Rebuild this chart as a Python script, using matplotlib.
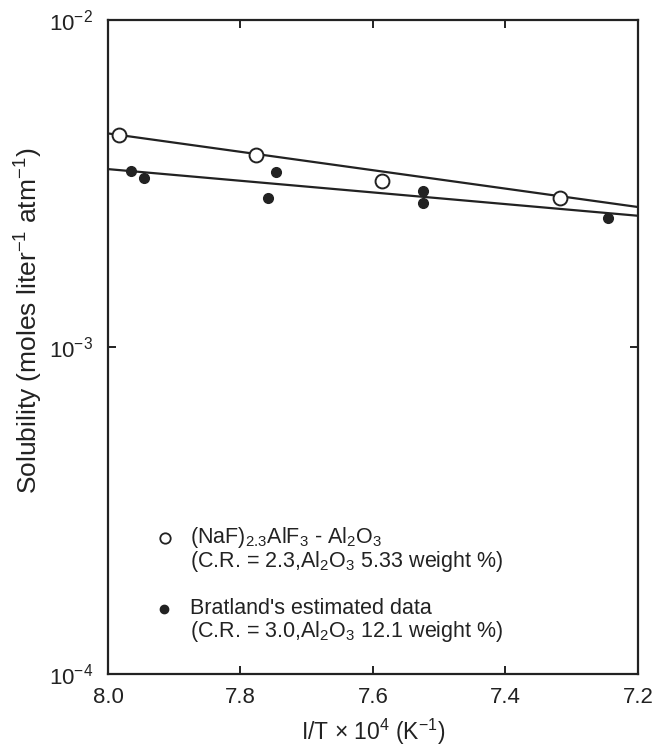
import matplotlib
matplotlib.use('Agg')
import matplotlib.pyplot as plt
from matplotlib.ticker import FixedLocator, NullLocator

plt.rcParams['font.family'] = ['Liberation Sans', 'DejaVu Sans']
plt.rcParams['mathtext.fontset'] = 'custom'
plt.rcParams['mathtext.rm'] = 'Liberation Sans'
plt.rcParams['mathtext.it'] = 'Liberation Sans'
plt.rcParams['mathtext.default'] = 'regular'

# (NaF)2.3AlF3 - Al2O3, open circles
open_x = [7.983, 7.776, 7.586, 7.318]
open_y = [4.45e-3, 3.86e-3, 3.22e-3, 2.86e-3]

# Bratland's estimated data, filled dots
fill_x = [7.965, 7.945, 7.747, 7.758, 7.524, 7.524, 7.245]
fill_y = [3.45e-3, 3.29e-3, 3.43e-3, 2.86e-3, 3.00e-3, 2.76e-3, 2.48e-3]

# fitted lines (end points)
line_x = [8.0, 7.2]
open_line_y = [4.50e-3, 2.68e-3]
fill_line_y = [3.50e-3, 2.52e-3]

x_ticks = [8.0, 7.8, 7.6, 7.4, 7.2]
y_ticks = [1e-4, 1e-3, 1e-2]
y_labels = ['$10^{-4}$', '$10^{-3}$', '$10^{-2}$']

ink = '#222222'

fig = plt.figure(figsize=(6.53, 7.47), dpi=100)
ax = fig.add_axes([0.1654, 0.0977, 0.8116, 0.8755])

ax.plot(line_x, open_line_y, color=ink, lw=1.6, zorder=2)
ax.plot(line_x, fill_line_y, color=ink, lw=1.6, zorder=2)
ax.plot(open_x, open_y, 'o', ms=10, mfc='white', mec=ink, mew=1.4,
        ls='none', zorder=3)
ax.plot(fill_x, fill_y, 'o', ms=7, color=ink, ls='none', zorder=3)

ax.set_yscale('log')
ax.set_xlim(8.0, 7.2)
ax.set_ylim(1e-4, 1e-2)

ax.xaxis.set_major_locator(FixedLocator(x_ticks))
ax.set_xticklabels([f'{t:.1f}' for t in x_ticks])
ax.yaxis.set_major_locator(FixedLocator(y_ticks))
ax.yaxis.set_minor_locator(NullLocator())
ax.set_yticklabels(y_labels)

ax.tick_params(direction='in', length=6, width=1.4, top=True, right=True,
               labelsize=16, colors=ink)
ax.tick_params(axis='x', pad=9)
ax.tick_params(axis='y', pad=11)
# no ticks at the frame corners
for t in ax.xaxis.get_major_ticks():
    if t.get_loc() in (8.0, 7.2):
        t.tick1line.set_visible(False)
        t.tick2line.set_visible(False)
for t in ax.yaxis.get_major_ticks():
    if t.get_loc() in (1e-4, 1e-2):
        t.tick1line.set_visible(False)
        t.tick2line.set_visible(False)

for s in ax.spines.values():
    s.set_linewidth(1.6)
    s.set_color(ink)

ax.set_xlabel('I/T $\\times$ 10$^{4}$ (K$^{-1}$)', fontsize=16.5, color=ink)
ax.xaxis.set_label_coords(0.5, -0.066)
ax.set_ylabel('Solubility (moles liter$^{-1}$ atm$^{-1}$)', fontsize=19,
              color=ink)
ax.yaxis.set_label_coords(-0.118, 0.54)

# legend drawn by hand
ax.plot([0.108], [0.208], 'o', ms=7.5, mfc='white', mec=ink, mew=1.3,
        transform=ax.transAxes, clip_on=False)
ax.text(0.155, 0.208, '(NaF)$_{2.3}$AlF$_3$ - Al$_2$O$_3$', transform=ax.transAxes,
        fontsize=15.5, va='center', color=ink)
ax.text(0.155, 0.172, '(C.R. = 2.3,Al$_2$O$_3$ 5.33 weight %)',
        transform=ax.transAxes, fontsize=15.5, va='center', color=ink)
ax.plot([0.105], [0.1], 'o', ms=6, color=ink,
        transform=ax.transAxes, clip_on=False)
ax.text(0.155, 0.1, "Bratland's estimated data", transform=ax.transAxes,
        fontsize=15.5, va='center', color=ink)
ax.text(0.155, 0.065, '(C.R. = 3.0,Al$_2$O$_3$ 12.1 weight %)',
        transform=ax.transAxes, fontsize=15.5, va='center', color=ink)

fig.savefig('out.png', dpi=100)
